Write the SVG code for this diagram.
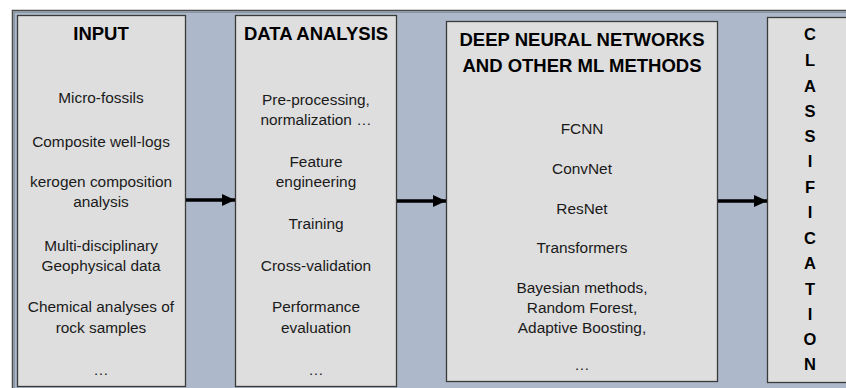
<svg xmlns="http://www.w3.org/2000/svg" width="846" height="388" viewBox="0 0 846 388">
<defs>
<style>
.box{fill:#DEDEDE;stroke:#3a3a3a;stroke-width:1.3}
.t{font-family:"Liberation Sans",Arial,sans-serif;font-size:15.4px;fill:#1a1a1a;text-anchor:middle}
.h{font-family:"Liberation Sans",Arial,sans-serif;font-size:18.5px;font-weight:bold;fill:#000;text-anchor:middle}
.c{font-family:"Liberation Sans",Arial,sans-serif;font-size:16.5px;font-weight:bold;fill:#000;text-anchor:middle}
.arr{stroke:#000;stroke-width:3.4;fill:none;marker-end:url(#ah)}
</style>
<marker id="ah" markerUnits="userSpaceOnUse" markerWidth="14" markerHeight="14" refX="13" refY="6" orient="auto">
<path d="M0,0 L13,6 L0,12 Z" fill="#000"/>
</marker>
</defs>
<rect x="0" y="0" width="846" height="388" fill="#ffffff"/>
<g id="background">
<rect x="12.5" y="10.5" width="850" height="400" fill="#ADB9CA" stroke="#4a4a4a" stroke-width="1.5"/>
<rect x="14.5" y="12.5" width="850" height="400" fill="none" stroke="#8a94a2" stroke-width="1"/>
</g>
<g id="input">
<rect class="box" x="17.5" y="15.5" width="168" height="371"/>
<text class="h" x="101" y="40">INPUT</text>
<text class="t" x="101" y="103">Micro-fossils</text>
<text class="t" x="101" y="147">Composite well-logs</text>
<text class="t" x="101" y="187">kerogen composition</text>
<text class="t" x="101" y="207">analysis</text>
<text class="t" x="101" y="251">Multi-disciplinary</text>
<text class="t" x="101" y="271">Geophysical data</text>
<text class="t" x="101" y="312">Chemical analyses of</text>
<text class="t" x="101" y="333">rock samples</text>
<text class="t" x="101" y="375">…</text>
</g>
<g id="data-analysis">
<rect class="box" x="235.5" y="15.5" width="161" height="371"/>
<text class="h" x="316" y="40">DATA ANALYSIS</text>
<text class="t" x="316" y="105">Pre-processing,</text>
<text class="t" x="316" y="125">normalization …</text>
<text class="t" x="316" y="167">Feature</text>
<text class="t" x="316" y="187">engineering</text>
<text class="t" x="316" y="229">Training</text>
<text class="t" x="316" y="271">Cross-validation</text>
<text class="t" x="316" y="312">Performance</text>
<text class="t" x="316" y="333">evaluation</text>
<text class="t" x="316" y="375">…</text>
</g>
<g id="dnn">
<rect class="box" x="446.5" y="21.5" width="271" height="360"/>
<text class="h" x="582" y="46">DEEP NEURAL NETWORKS</text>
<text class="h" x="582" y="72">AND OTHER ML METHODS</text>
<text class="t" x="582" y="134">FCNN</text>
<text class="t" x="582" y="174">ConvNet</text>
<text class="t" x="582" y="214">ResNet</text>
<text class="t" x="582" y="253">Transformers</text>
<text class="t" x="582" y="293">Bayesian methods,</text>
<text class="t" x="582" y="313">Random Forest,</text>
<text class="t" x="582" y="333">Adaptive Boosting,</text>
<text class="t" x="582" y="370">…</text>
</g>
<g id="classification">
<rect class="box" x="767.5" y="17.5" width="90" height="365"/>
<text class="c" x="810" y="40">C</text>
<text class="c" x="810" y="66">L</text>
<text class="c" x="810" y="92">A</text>
<text class="c" x="810" y="117">S</text>
<text class="c" x="810" y="142">S</text>
<text class="c" x="810" y="167">I</text>
<text class="c" x="810" y="193">F</text>
<text class="c" x="810" y="218">I</text>
<text class="c" x="810" y="244">C</text>
<text class="c" x="810" y="269">A</text>
<text class="c" x="810" y="295">T</text>
<text class="c" x="810" y="320">I</text>
<text class="c" x="810" y="345">O</text>
<text class="c" x="810" y="370">N</text>
</g>
<g id="connectors">
<line class="arr" x1="186" y1="200" x2="235" y2="200"/>
<line class="arr" x1="397" y1="201" x2="446" y2="201"/>
<line class="arr" x1="718" y1="201" x2="767" y2="201"/>
</g>
</svg>
